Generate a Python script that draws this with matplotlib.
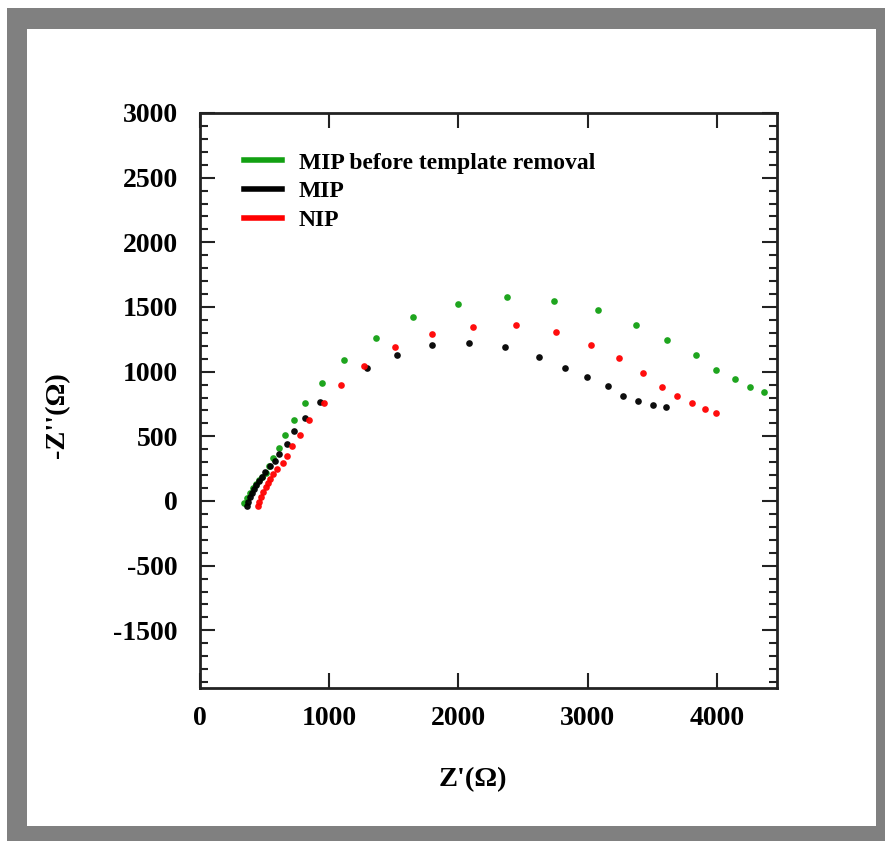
#%%
import numpy as np
import matplotlib
matplotlib.use('Agg')
import matplotlib.pyplot as plt
from matplotlib.lines import Line2D
from matplotlib.patches import Rectangle

plt.rcParams['font.family'] = ['Liberation Serif', 'DejaVu Serif']
plt.rcParams['font.weight'] = 'bold'

#%%
# Nyquist data, Z' and -Z'' in ohm
green_x = [340, 364, 387, 410, 433, 457, 480, 511, 534, 565, 611, 658, 728, 813, 944,
           1115, 1362, 1649, 1997, 2376, 2740, 3080, 3375, 3615, 3839, 3994, 4141, 4257, 4365]
green_y = [-15, 23, 62, 100, 131, 162, 186, 217, 271, 333, 410, 510, 626, 758, 913,
           1090, 1261, 1423, 1524, 1578, 1547, 1477, 1361, 1245, 1129, 1013, 944, 882, 843]

black_x = [364, 372, 387, 402, 418, 433, 457, 480, 503, 542, 580, 611, 673, 728, 813,
           929, 1293, 1525, 1796, 2082, 2361, 2624, 2825, 2995, 3158, 3274, 3390, 3506, 3607]
black_y = [-39, -8, 31, 62, 93, 124, 155, 186, 224, 271, 309, 363, 441, 541, 642,
           766, 1029, 1129, 1206, 1222, 1191, 1114, 1029, 959, 889, 812, 773, 742, 727]

red_x = [449, 457, 472, 488, 511, 526, 542, 565, 596, 642, 673, 712, 774, 844, 960,
         1091, 1269, 1509, 1796, 2113, 2446, 2755, 3026, 3243, 3429, 3576, 3692, 3808, 3909, 3994]
red_y = [-39, -8, 31, 70, 108, 139, 170, 209, 247, 294, 348, 425, 510, 626, 758,
         897, 1044, 1191, 1292, 1346, 1361, 1307, 1206, 1106, 990, 882, 812, 758, 712, 681]

series_names = ['MIP before template removal', 'MIP', 'NIP']
series_colors = ['#12a012', '#000000', '#ff0000']

x_ticks = [0, 1000, 2000, 3000, 4000]
y_ticks = [3000, 2500, 2000, 1500, 1000, 500, 0, -500, -1000]
y_tick_labels = ['3000', '2500', '2000', '1500', '1000', '500', '0', '-500', '-1500']

#%%
fig = plt.figure(figsize=(8.85, 8.41), dpi=100)
fig.patch.set_facecolor('white')
# grey picture frame behind the axes
fig.patches.append(Rectangle((7 / 885, 0), 878 / 885, 833 / 841, transform=fig.transFigure,
                             facecolor='#808080', edgecolor='none', zorder=-10))
fig.patches.append(Rectangle((27 / 885, 15 / 841), 849 / 885, 797 / 841, transform=fig.transFigure,
                             facecolor='white', edgecolor='none', zorder=-9))

ax = fig.add_axes([200 / 885, 1 - 688 / 841, 577 / 885, 575 / 841])
ax.set_zorder(5)
ax.set_facecolor('none')

for xs, ys, c in zip([green_x, black_x, red_x], [green_y, black_y, red_y], series_colors):
    ax.plot(xs, ys, 'o', color=c, markersize=4.8, markeredgewidth=0, alpha=0.95)

ax.set_xlim(0, 4466)
ax.set_ylim(-1446, 3000)

ax.set_xticks(x_ticks)
ax.set_xticklabels([str(t) for t in x_ticks])
ax.set_yticks(y_ticks)
ax.set_yticklabels(y_tick_labels)
ax.set_yticks(np.arange(-1400, 3000, 100), minor=True)

ax.tick_params(axis='both', which='both', direction='in', labelsize=20, width=1.5, color='#222222')
ax.tick_params(axis='y', which='major', length=11, pad=16, right=True)
ax.tick_params(axis='y', which='minor', length=6, right=True)
ax.tick_params(axis='x', which='major', length=11, pad=13, top=True)
ax.tick_params(axis='x', which='minor', bottom=False, top=False)
for sp in ax.spines.values():
    sp.set_linewidth(2)
    sp.set_color('#222222')

ax.set_xlabel("Z'(\u03a9)", fontsize=20.5, fontweight='bold')
ax.set_ylabel("-Z''(\u03a9)", fontsize=20.5, fontweight='bold')
ax.xaxis.set_label_coords(0.473, -0.137)
ax.yaxis.set_label_coords(-0.225, 0.475)

handles = [Line2D([0], [0], color=c, lw=4) for c in series_colors]
ax.legend(handles, series_names, loc='upper left', bbox_to_anchor=(0.0765, 0.932),
          frameon=False, fontsize=17, handlelength=1.62, handletextpad=0.7,
          labelspacing=0.3, borderpad=0, borderaxespad=0)

fig.savefig('out.png', dpi=100)
